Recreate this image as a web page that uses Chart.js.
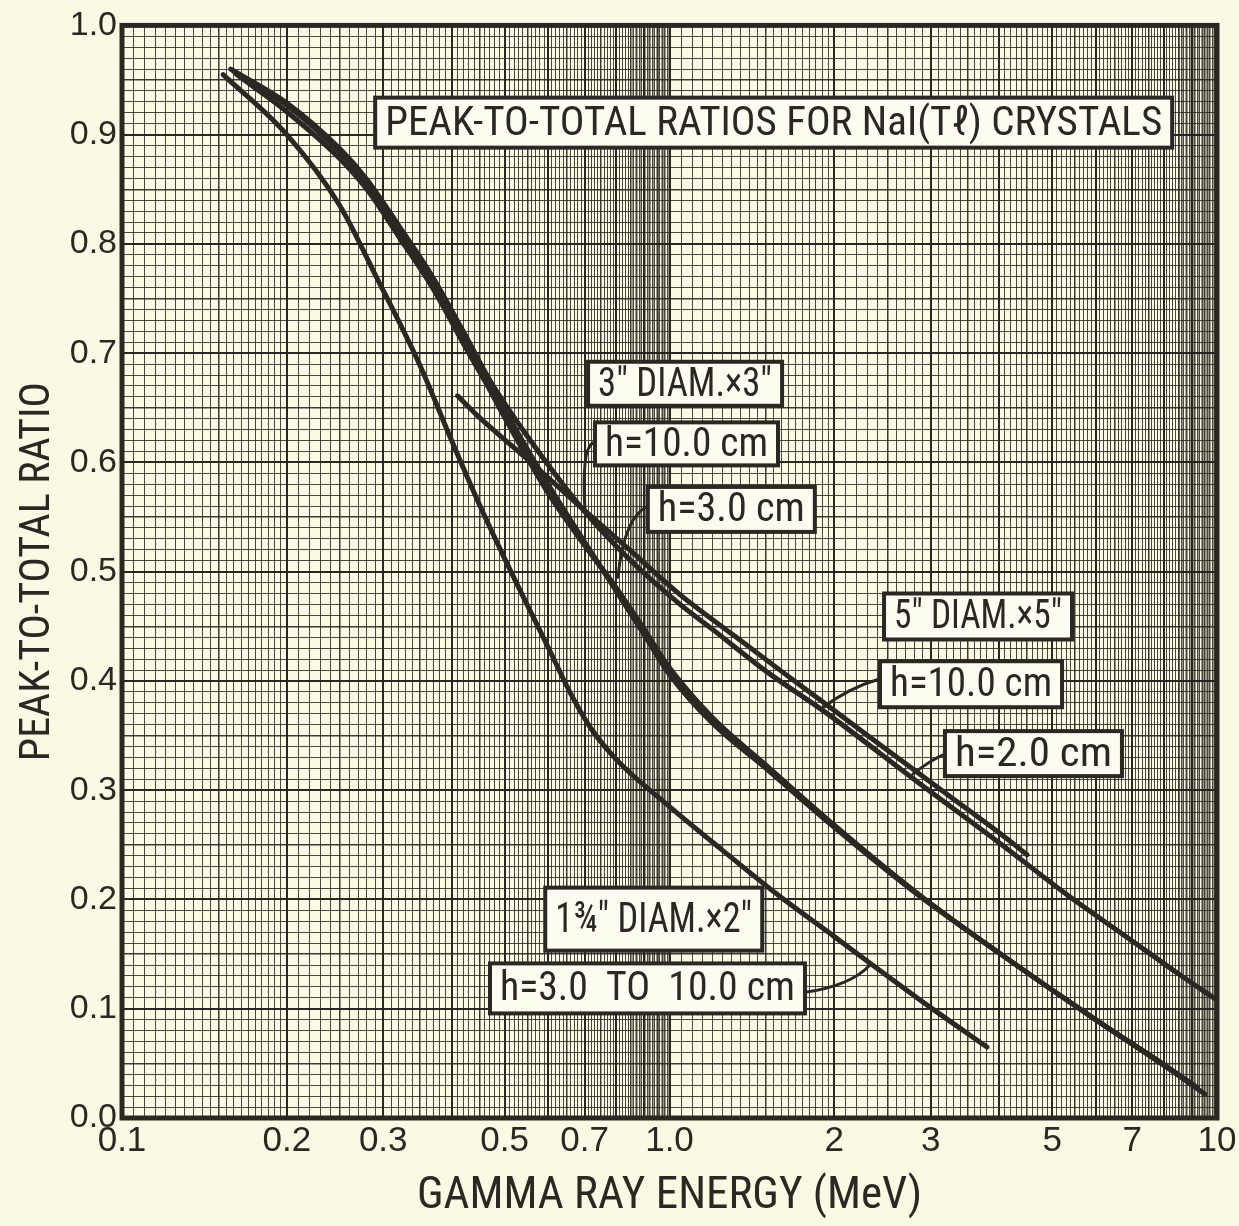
<!DOCTYPE html>
<html>
<head>
<meta charset="utf-8">
<title>Peak-to-total ratios for NaI(Tl) crystals</title>
<script src="https://cdn.jsdelivr.net/npm/chart.js@4.4.1/dist/chart.umd.min.js"></script>
<style>
  html, body { margin: 0; padding: 0; background: #fbf9e4; overflow: hidden; }
  #chart { display: block; width: 1239px; height: 1226px; }
</style>
</head>
<body>
<canvas id="chart" width="1239" height="1226"></canvas>
<script>
// axis ticks
const xTickValues = [0.1, 0.2, 0.3, 0.5, 0.7, 1.0, 2, 3, 5, 7, 10];
const xTickLabels = ['0.1', '0.2', '0.3', '0.5', '0.7', '1.0', '2', '3', '5', '7', '10'];
const yTickValues = [0, 0.1, 0.2, 0.3, 0.4, 0.5, 0.6, 0.7, 0.8, 0.9, 1.0];
const yTickLabels = ['0.0', '0.1', '0.2', '0.3', '0.4', '0.5', '0.6', '0.7', '0.8', '0.9', '1.0'];

// 1 3/4" diam x 2", h = 3.0 to 10.0 cm
const e175x2 = [0.153, 0.20, 0.25, 0.29, 0.35, 0.40, 0.45, 0.50, 0.60, 0.667, 0.72, 0.80, 1.0, 1.25, 1.57, 2.0, 2.5, 3.0, 3.8];
const r175x2 = [0.955, 0.900, 0.835, 0.772, 0.689, 0.620, 0.561, 0.512, 0.431, 0.384, 0.356, 0.328, 0.285, 0.245, 0.205, 0.166, 0.130, 0.101, 0.065];

// 3" diam x 3", h = 10.0 cm
const e3x3h10 = [0.16, 0.20, 0.25, 0.28, 0.32, 0.37, 0.42, 0.47, 0.50, 0.60, 0.70, 0.80, 0.90, 1.0, 1.2, 1.5, 2.0, 2.83, 4.0, 6.0, 8.0, 9.5];
const r3x3h10 = [0.958, 0.927, 0.884, 0.856, 0.813, 0.765, 0.715, 0.672, 0.648, 0.580, 0.527, 0.482, 0.442, 0.406, 0.361, 0.320, 0.266, 0.205, 0.151, 0.090, 0.048, 0.022];

// 3" diam x 3", h = 3.0 cm
const e3x3h3 = [0.162, 0.20, 0.25, 0.28, 0.32, 0.37, 0.42, 0.47, 0.50, 0.60, 0.70, 0.80, 0.90, 1.0, 1.2, 1.5, 2.0, 2.83, 4.0, 6.0, 8.0, 9.2];
const r3x3h3 = [0.955, 0.921, 0.878, 0.850, 0.807, 0.759, 0.709, 0.666, 0.641, 0.572, 0.524, 0.485, 0.447, 0.412, 0.366, 0.323, 0.268, 0.206, 0.151, 0.090, 0.049, 0.028];

// 5" diam x 5", h = 10.0 cm
const e5x5h10 = [0.41, 0.45, 0.55, 0.70, 0.85, 1.045, 1.3, 1.6, 1.88, 2.3, 2.69, 3.3, 4.0, 4.5];
const r5x5h10 = [0.661, 0.641, 0.603, 0.556, 0.519, 0.479, 0.443, 0.409, 0.383, 0.350, 0.325, 0.292, 0.261, 0.241];

// 5" diam x 5", h = 2.0 cm
const e5x5h2 = [0.158, 0.20, 0.25, 0.28, 0.32, 0.37, 0.42, 0.47, 0.55, 0.70, 0.85, 1.04, 1.2, 1.5, 1.93, 2.83, 4.0, 5.3, 7.0, 8.5, 10.0];
const r5x5h2 = [0.960, 0.929, 0.887, 0.859, 0.817, 0.769, 0.720, 0.675, 0.624, 0.555, 0.510, 0.471, 0.447, 0.409, 0.371, 0.308, 0.252, 0.205, 0.162, 0.132, 0.108];

const INK = '#2b2722';
const PAPER = '#fbf9e4';
const LETTER = '"Liberation Sans Narrow", "Roboto Condensed", "DejaVu Sans Condensed", "Liberation Sans", sans-serif';
const DIGITS = '"Liberation Sans", "DejaVu Sans", sans-serif';

// log graph paper rulings: weight 0 minor, 1 half, 2 main, 3 fine fill near the end of a decade
const xGrid = [];
const xGridWeight = [];
[0.1, 1].forEach((dec) => {
    let m = 100;
    while (m < 1000) {
        xGrid.push(dec * m / 100);
        let w = m % 100 === 0 ? 2 : (m % 50 === 0 ? 1 : 0);
        if (m > 850 && m % 10 !== 0) w = 3;
        xGridWeight.push(w);
        m += m < 200 ? 5 : (m < 850 ? 10 : 5);
    }
});
xGrid.push(10);
xGridWeight.push(2);

const yGrid = [];
const yGridWeight = [];
for (let k = 0; k <= 100; k++) {
    yGrid.push(k / 100);
    yGridWeight.push(k % 10 === 0 ? 2 : (k % 5 === 0 ? 1 : 0));
}

const gridColor = ['rgba(43,39,34,0.85)', 'rgba(40,36,30,0.9)', 'rgba(35,31,27,0.97)', 'rgba(43,39,34,0.45)'];
const gridWidth = [1, 1.5, 2, 1];

function findLabel(values, labels, v) {
    const i = values.findIndex((t) => Math.abs(t - v) < 1e-9 * Math.max(1, t));
    return i < 0 ? '' : labels[i];
}

const curves = [
    { label: '1¾" DIAM.×2"  h=3.0 TO 10.0 cm', e: e175x2, r: r175x2 },
    { label: '3" DIAM.×3"  h=10.0 cm', e: e3x3h10, r: r3x3h10 },
    { label: '3" DIAM.×3"  h=3.0 cm', e: e3x3h3, r: r3x3h3 },
    { label: '5" DIAM.×5"  h=10.0 cm', e: e5x5h10, r: r5x5h10 },
    { label: '5" DIAM.×5"  h=2.0 cm', e: e5x5h2, r: r5x5h2 }
];

// boxed lettering, anchored at the box's left edge / vertical centre in data units
const boxes = [
    { text: 'PEAK-TO-TOTAL RATIOS FOR NaI(Tℓ) CRYSTALS', e: 0.290, r: 0.911, w: 797, h: 50, size: 40 },
    { text: '3" DIAM.×3"', e: 0.710, r: 0.672, w: 194, h: 44, size: 40 },
    { text: 'h=10.0 cm', e: 0.731, r: 0.617, w: 183, h: 43, size: 40 },
    { text: 'h=3.0 cm', e: 0.913, r: 0.557, w: 167, h: 45, size: 40 },
    { text: '5" DIAM.×5"', e: 2.465, r: 0.459, w: 188, h: 46, size: 40 },
    { text: 'h=10.0 cm', e: 2.424, r: 0.397, w: 182, h: 46, size: 40 },
    { text: 'h=2.0 cm', e: 3.185, r: 0.3335, w: 177, h: 45, size: 40 },
    { text: '1¾" DIAM.×2"', e: 0.593, r: 0.182, w: 217, h: 63, size: 42 },
    { text: 'h=3.0  TO  10.0 cm', e: 0.470, r: 0.1186, w: 315, h: 50, size: 40 }
];

// leader lines from the boxes to their curves
const leaders = [
    [[0.725, 0.618], [0.690, 0.613], [0.701, 0.556]],
    [[0.921, 0.561], [0.826, 0.552], [0.805, 0.495]],
    [[2.424, 0.402], [2.11, 0.393], [1.90, 0.375]],
    [[3.185, 0.333], [3.03, 0.329], [2.785, 0.315]],
    [[1.768, 0.115], [2.137, 0.121], [2.32, 0.1396]]
];

const paperPlugin = {
    id: 'paper',
    beforeDraw(chart) {
        const ctx = chart.ctx;
        ctx.save();
        ctx.fillStyle = PAPER;
        ctx.fillRect(0, 0, chart.width, chart.height);
        ctx.restore();
    },
    afterDatasetsDraw(chart) {
        const ctx = chart.ctx;
        const a = chart.chartArea;
        const xs = chart.scales.x;
        const ys = chart.scales.y;
        ctx.save();
        ctx.strokeStyle = INK;
        ctx.lineWidth = 5;
        ctx.strokeRect(a.left, a.top, a.right - a.left, a.bottom - a.top);

        ctx.lineWidth = 3;
        ctx.lineCap = 'round';
        leaders.forEach((p) => {
            const pts = p.map(([e, r]) => [xs.getPixelForValue(e), ys.getPixelForValue(r)]);
            ctx.beginPath();
            ctx.moveTo(pts[0][0], pts[0][1]);
            ctx.quadraticCurveTo(pts[1][0], pts[1][1], pts[2][0], pts[2][1]);
            ctx.stroke();
        });

        boxes.forEach((b) => {
            const x0 = xs.getPixelForValue(b.e);
            const yc = ys.getPixelForValue(b.r);
            ctx.fillStyle = '#fdfcf1';
            ctx.fillRect(x0, yc - b.h / 2, b.w, b.h);
            ctx.lineWidth = 4;
            ctx.strokeStyle = INK;
            ctx.strokeRect(x0, yc - b.h / 2, b.w, b.h);
            ctx.font = b.size + 'px ' + LETTER;
            ctx.fillStyle = INK;
            ctx.textAlign = 'center';
            ctx.textBaseline = 'middle';
            const tw = ctx.measureText(b.text).width;
            const k = Math.min(1.15, (b.w - 20) / tw);
            ctx.save();
            ctx.translate(x0 + b.w / 2, yc + 2);
            ctx.scale(k, 1);
            ctx.fillText(b.text, 0, 0);
            ctx.restore();
        });
        ctx.restore();
    }
};

new Chart(document.getElementById('chart'), {
    type: 'line',
    data: {
        datasets: curves.map((c) => ({
            label: c.label,
            data: c.e.map((e, i) => ({ x: e, y: c.r[i] })),
            borderColor: INK,
            borderWidth: 5,
            borderCapStyle: 'round',
            pointRadius: 0,
            fill: false,
            cubicInterpolationMode: 'monotone'
        }))
    },
    options: {
        responsive: false,
        animation: false,
        events: [],
        layout: { padding: { top: 22, right: 22, bottom: 0, left: 0 } },
        plugins: {
            legend: { display: false },
            tooltip: { enabled: false }
        },
        scales: {
            x: {
                type: 'logarithmic',
                min: 0.1,
                max: 10,
                afterBuildTicks: (s) => { s.ticks = xGrid.map((v) => ({ value: v })); },
                afterFit: (s) => { s.height = 108; },
                border: { display: false },
                grid: {
                    drawTicks: false,
                    color: (c) => gridColor[xGridWeight[c.index]] || gridColor[0],
                    lineWidth: (c) => gridWidth[xGridWeight[c.index]] || 1
                },
                ticks: {
                    autoSkip: false,
                    maxRotation: 0,
                    minRotation: 0,
                    padding: 2,
                    color: INK,
                    font: { family: DIGITS, size: 35 },
                    callback: (v) => findLabel(xTickValues, xTickLabels, v)
                },
                title: {
                    display: true,
                    text: 'GAMMA RAY ENERGY (MeV)',
                    color: INK,
                    font: { family: LETTER, size: 45 },
                    padding: { top: 0, bottom: 2 }
                }
            },
            y: {
                type: 'linear',
                min: 0,
                max: 1,
                afterBuildTicks: (s) => { s.ticks = yGrid.map((v) => ({ value: v })); },
                afterFit: (s) => { s.width = 122; },
                border: { display: false },
                grid: {
                    drawTicks: false,
                    color: (c) => gridColor[yGridWeight[c.index]] || gridColor[0],
                    lineWidth: (c) => gridWidth[yGridWeight[c.index]] || 1
                },
                ticks: {
                    autoSkip: false,
                    padding: 5,
                    color: INK,
                    font: { family: DIGITS, size: 34 },
                    callback: (v) => findLabel(yTickValues, yTickLabels, v)
                },
                title: {
                    display: true,
                    text: 'PEAK-TO-TOTAL RATIO',
                    color: INK,
                    font: { family: LETTER, size: 42 },
                    padding: { top: 13, bottom: 0 }
                }
            }
        }
    },
    plugins: [paperPlugin]
});
</script>
</body>
</html>
